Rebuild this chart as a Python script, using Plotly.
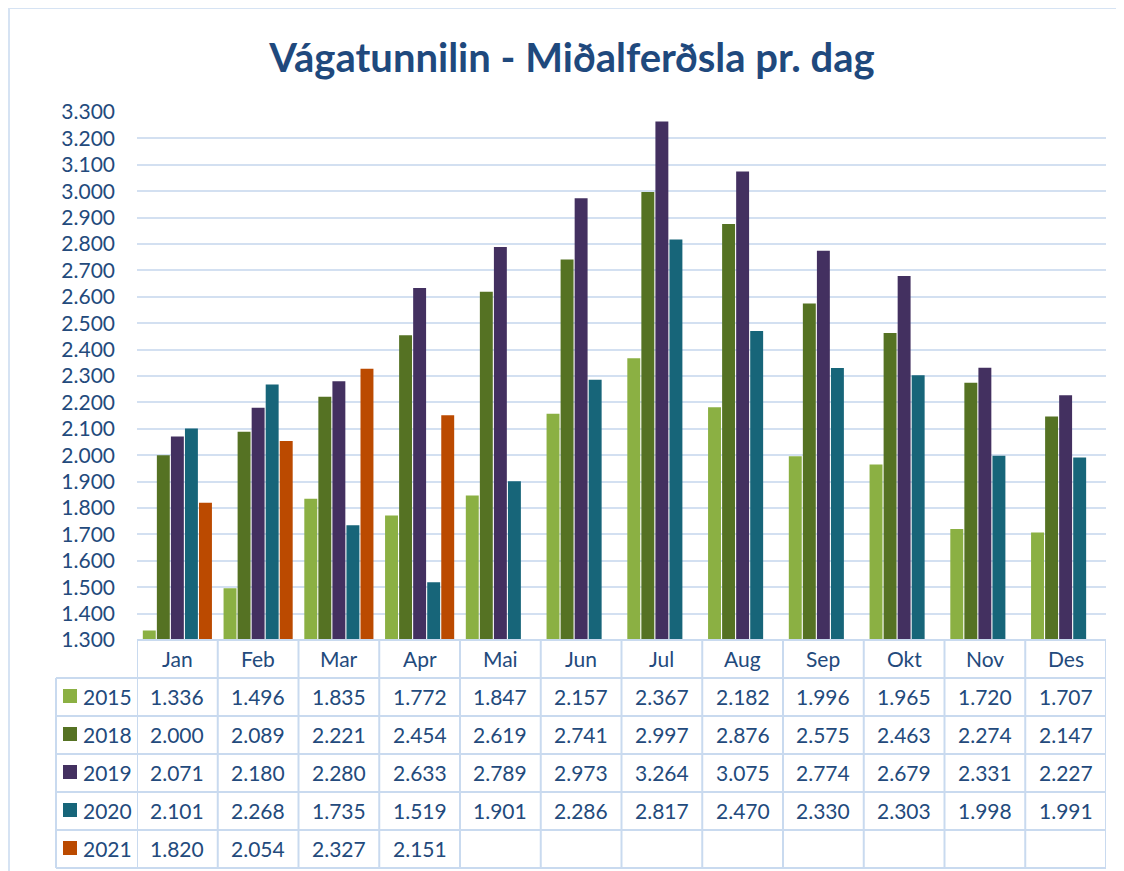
import plotly.graph_objects as go

months = ["Jan", "Feb", "Mar", "Apr", "Mai", "Jun", "Jul", "Aug", "Sep", "Okt", "Nov", "Des"]
years = ["2015", "2018", "2019", "2020", "2021"]
v2015 = [1336, 1496, 1835, 1772, 1847, 2157, 2367, 2182, 1996, 1965, 1720, 1707]
v2018 = [2000, 2089, 2221, 2454, 2619, 2741, 2997, 2876, 2575, 2463, 2274, 2147]
v2019 = [2071, 2180, 2280, 2633, 2789, 2973, 3264, 3075, 2774, 2679, 2331, 2227]
v2020 = [2101, 2268, 1735, 1519, 1901, 2286, 2817, 2470, 2330, 2303, 1998, 1991]
v2021 = [1820, 2054, 2327, 2151, None, None, None, None, None, None, None, None]
series = [v2015, v2018, v2019, v2020, v2021]
colors = ["#8BB043", "#557223", "#433060", "#176579", "#BB4A00"]

TITLE = "Vágatunnilin - Miðalferðsla pr. dag"
TXT = "#234A7C"
GRID = "#D3E0F1"
FONT = "Lato"

W, H = 1124, 871
OFF = 8  # page body margin
# desired screen positions of plot area
SL, SR, ST, SB = 137, 1106, 112, 640
L = SL - OFF
T = ST - OFF
R = W - (SR - OFF)
B = H - (SB - OFF)
PW, PH = W - L - R, H - T - B


def px(p):
    return (p - SL) / PW


def py(p):
    return (SB - p) / PH


def fmt(v):
    return "" if v is None else f"{v:,}".replace(",", ".")


fig = go.Figure()
for name, vals, c in zip(years, series, colors):
    fig.add_trace(go.Bar(x=months, y=vals, name=name, marker=dict(color=c, line=dict(width=0))))

shapes = []
ann = []
line = dict(color="#C9DAEF", width=2)

# outer frame
shapes.append(dict(type="line", xref="paper", yref="paper", x0=px(9), x1=px(W + 20), y0=py(8), y1=py(8),
                   line=dict(color="#D6E3F3", width=2)))
shapes.append(dict(type="line", xref="paper", yref="paper", x0=px(9), x1=px(9), y0=py(8), y1=py(H + 20),
                   line=dict(color="#D6E3F3", width=2)))

# table horizontal lines
row_bounds = [678, 716, 754, 792, 830, 868]
shapes.append(dict(type="line", xref="paper", yref="paper", x0=0, x1=1, y0=py(640), y1=py(640), line=line))
for rb in row_bounds:
    shapes.append(dict(type="line", xref="paper", yref="paper", x0=px(56), x1=1, y0=py(rb), y1=py(rb),
                       line=line))
# vertical lines
for k in range(len(months) + 1):
    shapes.append(dict(type="line", xref="x", yref="paper", x0=k - 0.5, x1=k - 0.5, y0=py(640), y1=py(868),
                       line=line))
shapes.append(dict(type="line", xref="paper", yref="paper", x0=px(56), x1=px(56), y0=py(678), y1=py(868),
                   line=line))

# month header
for m in months:
    ann.append(dict(x=m, y=py(658), xref="x", yref="paper", text=m, showarrow=False,
                    xanchor="center", yanchor="middle",
                    font=dict(family=FONT, size=21, color=TXT)))

row_centers = [696, 734, 772, 810, 848]
for i, (name, vals, c) in enumerate(zip(years, series, colors)):
    yc = row_centers[i]
    shapes.append(dict(type="rect", xref="paper", yref="paper", x0=px(63), x1=px(77),
                       y0=py(yc - 7), y1=py(yc + 7), fillcolor=c, line=dict(width=0)))
    ann.append(dict(x=px(81), y=py(yc), xref="paper", yref="paper", text=name, showarrow=False,
                    xanchor="left", yanchor="middle", font=dict(family=FONT, size=21, color=TXT)))
    for m, v in zip(months, vals):
        if v is None:
            continue
        ann.append(dict(x=m, y=py(yc), xref="x", yref="paper", text=fmt(v), showarrow=False,
                        xanchor="center", yanchor="middle",
                        font=dict(family=FONT, size=21, color=TXT)))

fig.update_layout(
    width=W, height=H,
    margin=dict(l=L, r=R, t=T, b=B),
    paper_bgcolor="white", plot_bgcolor="white",
    separators=",.",
    barmode="group", bargap=0.13, bargroupgap=0.08,
    showlegend=False,
    title=dict(text=TITLE, x=(572 - OFF) / W, xanchor="center", y=1 - (58 - OFF) / H, yanchor="middle",
               font=dict(family=FONT, size=40, color="#1F497D", weight="bold")),
    xaxis=dict(type="category", range=[-0.5, 11.5], showticklabels=False, showgrid=False,
               zeroline=False, showline=False),
    yaxis=dict(range=[1300, 3300], dtick=100, tickformat=",d", showgrid=True, gridcolor=GRID,
               gridwidth=2, zeroline=False, showline=False, ticks="", ticklabelstandoff=21,
               tickfont=dict(family=FONT, size=21, color=TXT)),
    shapes=shapes, annotations=ann,
    font=dict(family=FONT),
)

fig.write_html("out.html")
